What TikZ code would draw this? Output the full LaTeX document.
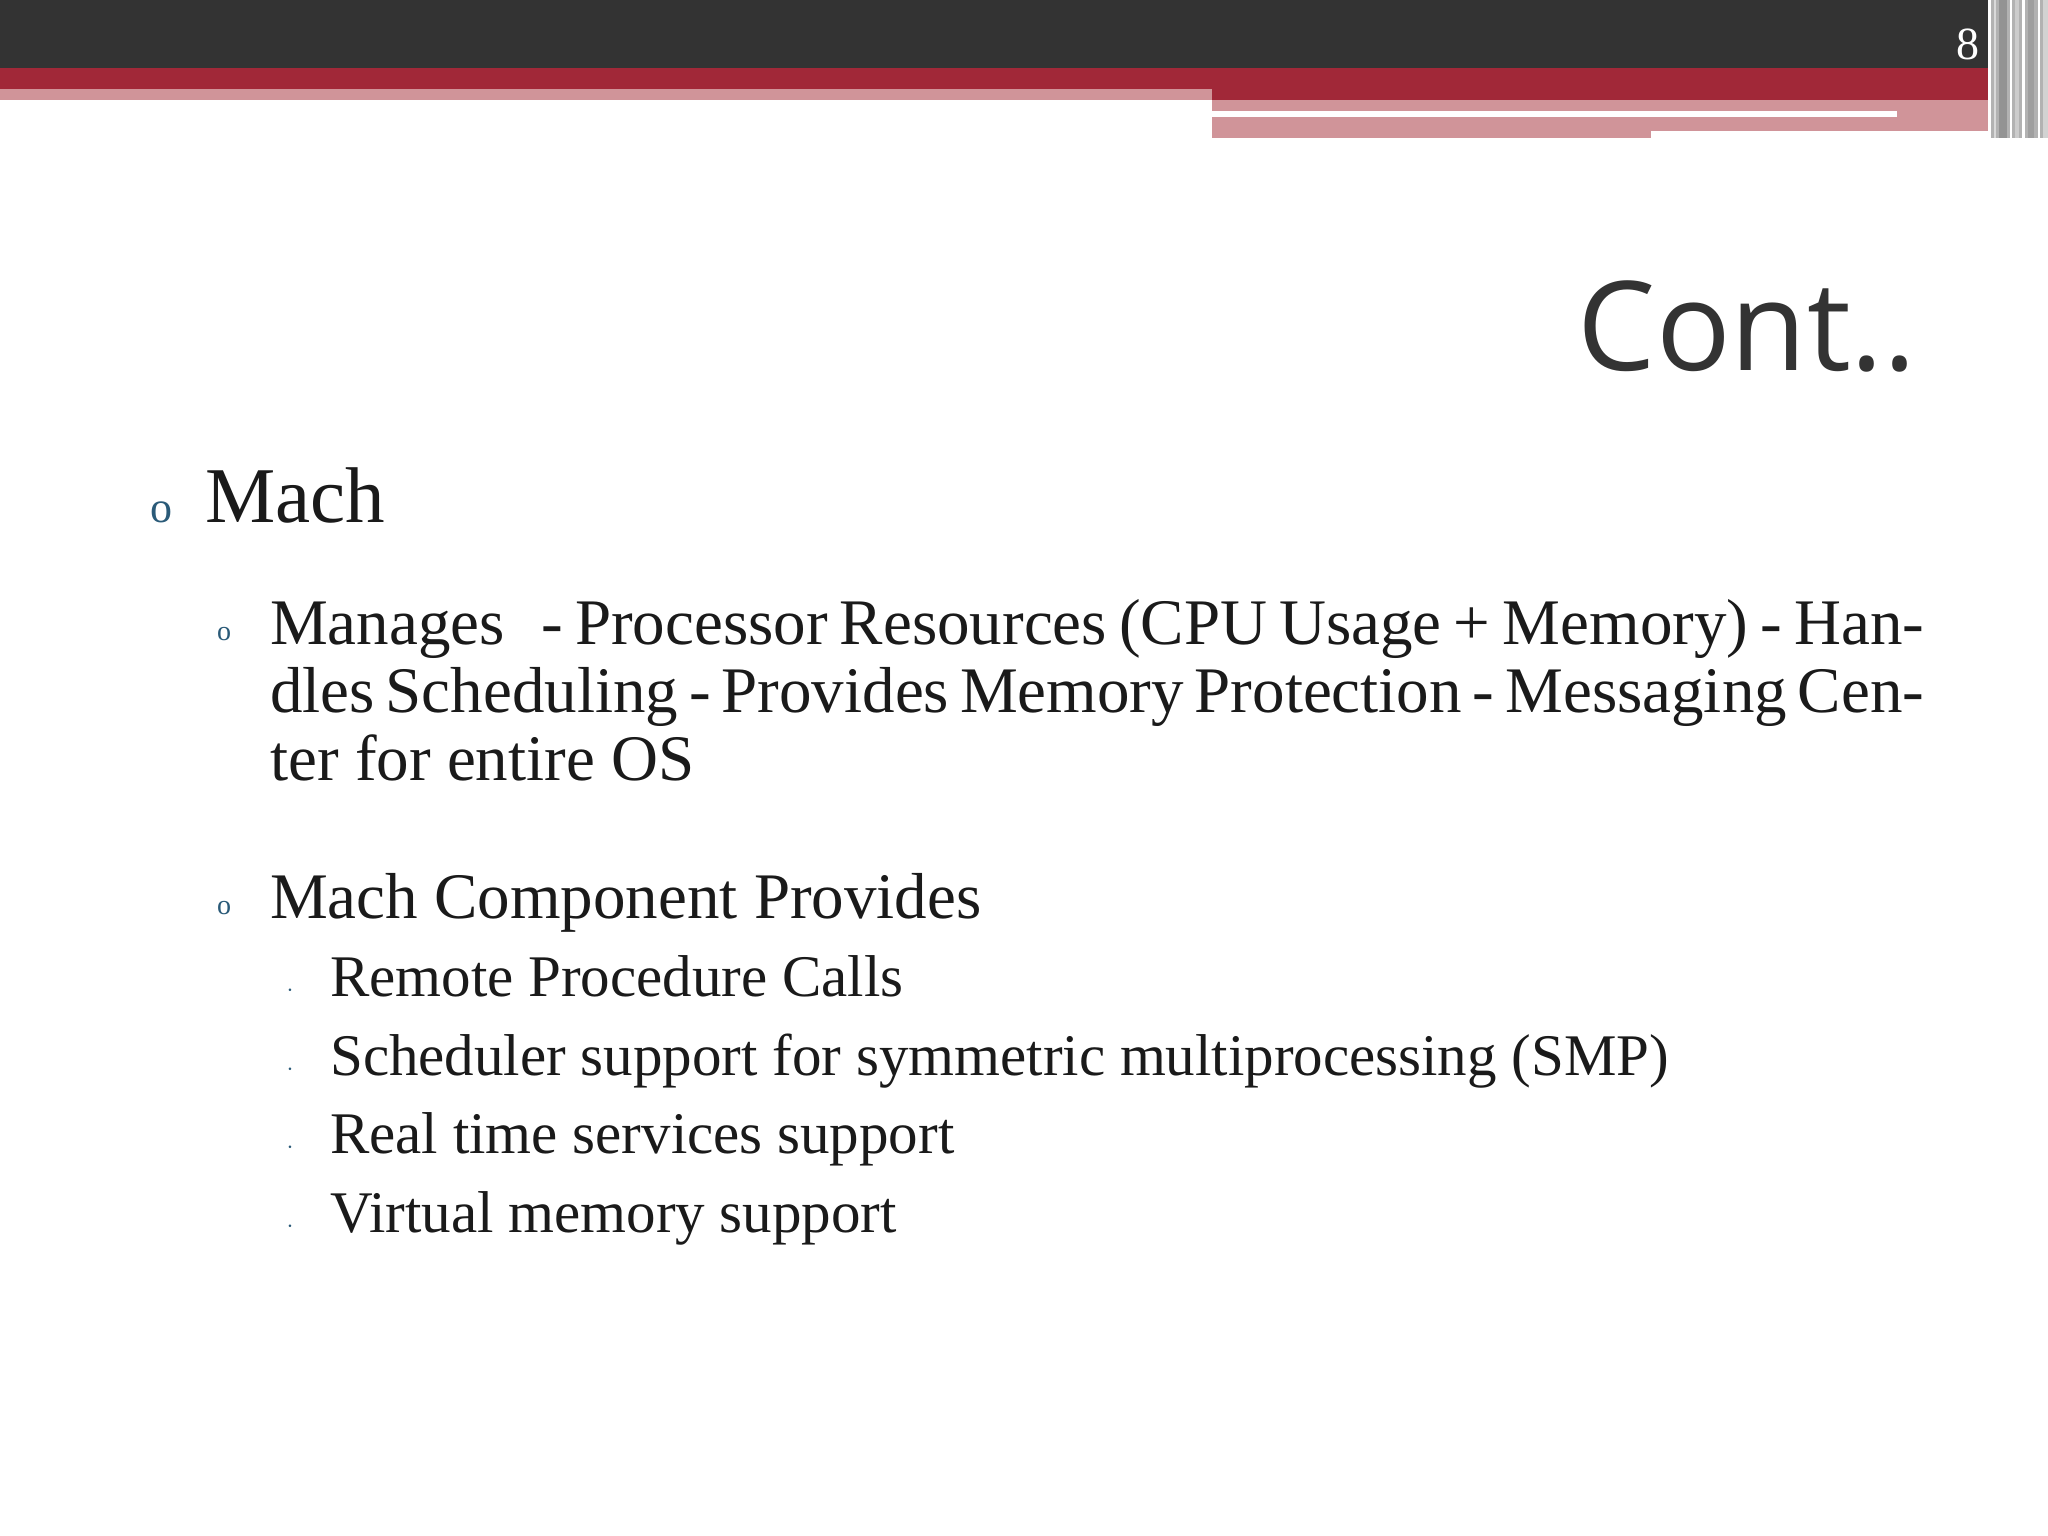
\documentclass[tikz,border=0pt]{standalone}
\usepackage{fontspec}
\setmainfont{Liberation Serif}
\newfontfamily\titlefont{Open Sans}
\definecolor{darkbar}{HTML}{333333}
\definecolor{redbar}{HTML}{A12838}
\definecolor{pinkbar}{HTML}{D09499}
\definecolor{bulletc}{HTML}{2A5A78}
\definecolor{textc}{HTML}{1A1A1A}
\tikzset{
  body/.style={inner sep=0pt, anchor=base west, text=textc},
  bul/.style={inner sep=0pt, anchor=base, text=bulletc},
}
\begin{document}
\begin{tikzpicture}[x=1pt,y=-1pt]
\useasboundingbox (0,0) rectangle (2048,1536);
\fill[white] (0,0) rectangle (2048,1536);
% header
\fill[darkbar] (0,0) rectangle (2048,68);
\fill[redbar] (0,68) rectangle (2048,100);
\fill[pinkbar] (0,89) rectangle (1212,100);
\fill[pinkbar] (1212,100) rectangle (1988,138);
\fill[white] (1212,111) rectangle (1897,117);
\fill[white] (1651,131) rectangle (1988,138);
% stripes
\fill[gray!60] (1988,0) rectangle (2048,138);
\foreach \a/\w/\c in {1988/3/white,1994/2/gray!30,1999/8/gray!85,2010/2/white,2015/4/gray!40,2022/3/white,2028/6/gray!75,2038/2/white,2043/5/gray!35}
  \fill[\c] (\a,0) rectangle (\a+\w,138);
\node[inner sep=0pt, anchor=base east, text=white, font=\fontsize{46}{50}\selectfont] (pg) at (1980,60) {8};
% title
\node[inner sep=0pt, anchor=base east, text=darkbar, font=\titlefont\fontsize{124}{130}\selectfont] (title) at (1917,370) {Cont..};
% level 1
\node[bul, font=\fontsize{44}{48}\selectfont] (b1) at (161,522) {o};
\node[body, font=\fontsize{79}{86}\selectfont] (mach) at (205,522) {Mach};
% level 2
\node[bul, font=\fontsize{28}{30}\selectfont] (b2) at (224,640) {o};
\node[body, text width=1654pt, align=justify, font=\fontsize{65}{68}\selectfont] (p1) at (270,644) {Manages \ \ - Processor Resources (CPU Usage + Memory) - Handles Scheduling - Provides Memory Protection - Messaging Center for entire OS};
\node[bul, font=\fontsize{28}{30}\selectfont] (b3) at (224,914) {o};
\node[body, font=\fontsize{65}{68}\selectfont] (p2) at (270,918) {Mach Component Provides};
% level 3
\foreach \y/\t [count=\i] in {996/Remote Procedure Calls,1075/Scheduler support for symmetric multiprocessing (SMP),1153/Real time services support,1232/Virtual memory support}{
  \node[bul, font=\fontsize{40}{44}\selectfont] (d\i) at (290,\y) {$\cdot$};
  \node[body, font=\fontsize{59}{62}\selectfont] (s\i) at (330,\y) {\t};
}
\end{tikzpicture}
\end{document}
